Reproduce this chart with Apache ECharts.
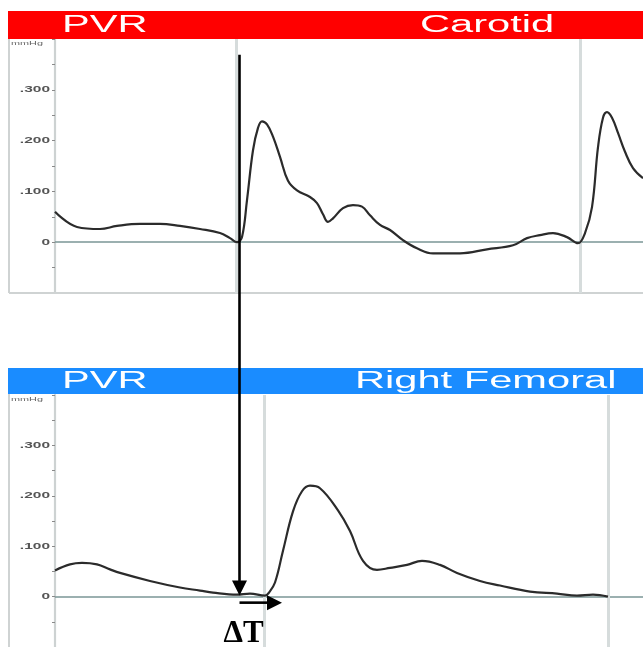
<!DOCTYPE html>
<html>
<head>
<meta charset="utf-8">
<script src="https://cdn.jsdelivr.net/npm/echarts@6/dist/echarts.min.js"></script>
<style>
html,body{margin:0;padding:0;background:#fff;}
#c{width:643px;height:647px;}
</style>
</head>
<body>
<div id="c"></div>
<script>
// ---- data (time in samples, pressure in mmHg units of the device) ----
const carotidTime = [0,22,45,62,85,105,125,145,165,175,182,187,192,198,203,207,212,218,225,233,242,255,262,268,273,278,288,298,307,315,325,335,348,362,378,405,432,458,472,485,498,512,523,530,537,543,548,552,557,563,570,578,588];
const carotidPressure = [0.060,0.030,0.026,0.032,0.036,0.036,0.032,0.026,0.018,0.008,0.000,0.010,0.083,0.181,0.225,0.238,0.232,0.208,0.168,0.121,0.102,0.089,0.077,0.055,0.040,0.047,0.067,0.073,0.070,0.053,0.034,0.024,0.004,-0.012,-0.022,-0.022,-0.014,-0.006,0.008,0.014,0.018,0.010,-0.002,0.018,0.069,0.187,0.245,0.256,0.245,0.215,0.178,0.146,0.126];
const femoralTime = [0,15,27,42,55,65,95,125,145,158,182,195,210,214,220,228,238,247,255,265,283,295,308,322,335,352,367,385,402,425,445,475,502,522,538,553];
const femoralPressure = [0.052,0.064,0.067,0.064,0.054,0.047,0.031,0.018,0.012,0.008,0.004,0.006,0.002,0.008,0.028,0.091,0.169,0.209,0.220,0.215,0.171,0.130,0.071,0.053,0.057,0.063,0.071,0.063,0.047,0.031,0.022,0.010,0.006,0.002,0.004,0.000];
const carotidMarkers = [181, 525];
const femoralMarkers = [209, 553];
const yTickLabels = [0, 0.1, 0.2, 0.3];
const panelTitles = ["PVR", "Carotid", "PVR", "Right Femoral"];
const unitLabel = "mmHg";
const deltaLabel = "\u0394T";
// annotation anchor values (time, pressure)
const arrowTime = 184.5;
const arrowTopValue = 0.369;     // in carotid panel
const arrowTipValue = 0.002;     // in femoral panel
const deltaEndTime = 227;
const deltaValue = -0.012;       // in femoral panel

const chart = echarts.init(document.getElementById('c'), null, {renderer:'canvas'});

function pairs(t, v){ return t.map((x,i)=>[x, v[i]]); }

const axisY = (gi)=>({
  type:'value', gridIndex:gi, min:-0.1, max:0.4, interval:0.05,
  axisLine:{show:true, lineStyle:{color:'#cdd2d2', width:2.2}},
  axisTick:{show:true, length:3, lineStyle:{color:'#8a8a8a', width:1}},
  axisLabel:{show:false}, splitLine:{show:false}
});
const axisX = (gi)=>({
  type:'value', gridIndex:gi, min:0, max:588, show:false
});

function marks(markers){
  return {
    silent:true, symbol:['none','none'], animation:false,
    label:{show:false},
    data: [
      {yAxis:0, lineStyle:{color:'#7a9696', width:1.6, type:'solid'}},
      ...markers.map(m=>({xAxis:m, lineStyle:{color:'#d6dcdc', width:3, type:'solid'}}))
    ]
  };
}

chart.setOption({
  animation:false,
  grid:[
    {left:55, top:39, width:588, height:254},
    {left:55, top:395, width:588, height:255}
  ],
  xAxis:[axisX(0), axisX(1)],
  yAxis:[axisY(0), axisY(1)],
  series:[
    {type:'line', xAxisIndex:0, yAxisIndex:0, data:pairs(carotidTime, carotidPressure),
     smooth:0.4, showSymbol:false, z:5, lineStyle:{color:'#2b2b2b', width:2.2},
     markLine:marks(carotidMarkers)},
    {type:'line', xAxisIndex:1, yAxisIndex:1, data:pairs(femoralTime, femoralPressure),
     smooth:0.4, showSymbol:false, z:5, lineStyle:{color:'#2b2b2b', width:2.2},
     markLine:marks(femoralMarkers)}
  ]
});

const SX = 1.81;
function px(gi, t, v){ return chart.convertToPixel({gridIndex:gi}, [t, v]); }

const g = [];
// frames
const topA = px(0, 0, 0.4), topB = px(0, 0, -0.1);
const botA = px(1, 0, 0.4);
g.push({type:'line', shape:{x1:9, y1:topA[1], x2:9, y2:topB[1]}, style:{stroke:'#cfd3d3', lineWidth:2}, z:1});
g.push({type:'line', shape:{x1:9, y1:topB[1], x2:643, y2:topB[1]}, style:{stroke:'#cfd3d3', lineWidth:2}, z:1});
g.push({type:'line', shape:{x1:9, y1:botA[1]-2, x2:9, y2:647}, style:{stroke:'#cfd3d3', lineWidth:2}, z:1});
// headers
g.push({type:'rect', shape:{x:8, y:11, width:635, height:28}, style:{fill:'#ff0000'}, z:2});
g.push({type:'rect', shape:{x:8, y:368, width:635, height:26}, style:{fill:'#1a8cff'}, z:2});
function htext(txt, x, y){
  return {type:'text', x:x, y:y, scaleX:SX, scaleY:1, z:3,
    style:{text:txt, fill:'#ffffff', font:'23px "Liberation Sans", Arial, sans-serif', textAlign:'left', textVerticalAlign:'middle'}};
}
g.push(htext(panelTitles[0], 62, 26));
g.push(htext(panelTitles[1], 420, 26));
g.push(htext(panelTitles[2], 62, 382));
g.push(htext(panelTitles[3], 355, 382));
// unit labels
[[0, topA[1]], [1, botA[1]]].forEach(([gi, y])=>{
  g.push({type:'text', x:11, y:y+4, scaleX:SX, z:3,
    style:{text:unitLabel, fill:'#666', font:'6px "Liberation Sans", Arial, sans-serif', textAlign:'left', textVerticalAlign:'middle'}});
});
// y tick labels
[0,1].forEach(gi=>{
  yTickLabels.forEach(v=>{
    const p = px(gi, 0, v);
    const txt = v === 0 ? '0' : '.' + String(Math.round(v*1000)).padStart(3,'0');
    g.push({type:'text', x:50, y:p[1], scaleX:1.72, z:3,
      style:{text:txt, fill:'#555', font:'bold 9px "Liberation Sans", Arial, sans-serif', textAlign:'right', textVerticalAlign:'middle'}});
  });
});
// vertical arrow
const aTop = px(0, arrowTime, arrowTopValue);
const aTip = px(1, arrowTime, arrowTipValue);
g.push({type:'line', shape:{x1:aTop[0], y1:aTop[1], x2:aTip[0], y2:aTip[1]-12}, style:{stroke:'#000', lineWidth:2.6}, z:10});
g.push({type:'polygon', shape:{points:[[aTip[0]-7.5, aTip[1]-15],[aTip[0]+7.5, aTip[1]-15],[aTip[0], aTip[1]]]}, style:{fill:'#000'}, z:10});
// horizontal arrow
const hS = px(1, arrowTime, deltaValue);
const hE = px(1, deltaEndTime, deltaValue);
g.push({type:'line', shape:{x1:hS[0], y1:hS[1], x2:hE[0]-12, y2:hE[1]}, style:{stroke:'#000', lineWidth:2.6}, z:10});
g.push({type:'polygon', shape:{points:[[hE[0]-15, hE[1]-7.5],[hE[0]-15, hE[1]+7.5],[hE[0], hE[1]]]}, style:{fill:'#000'}, z:10});
// delta label
g.push({type:'text', x:hS[0]+4, y:hS[1]+31, z:10,
  style:{text:deltaLabel, fill:'#000', font:'bold 31px "Liberation Serif", "Times New Roman", serif', textAlign:'center', textVerticalAlign:'middle'}});

chart.setOption({graphic:{elements:g}});
</script>
</body>
</html>
